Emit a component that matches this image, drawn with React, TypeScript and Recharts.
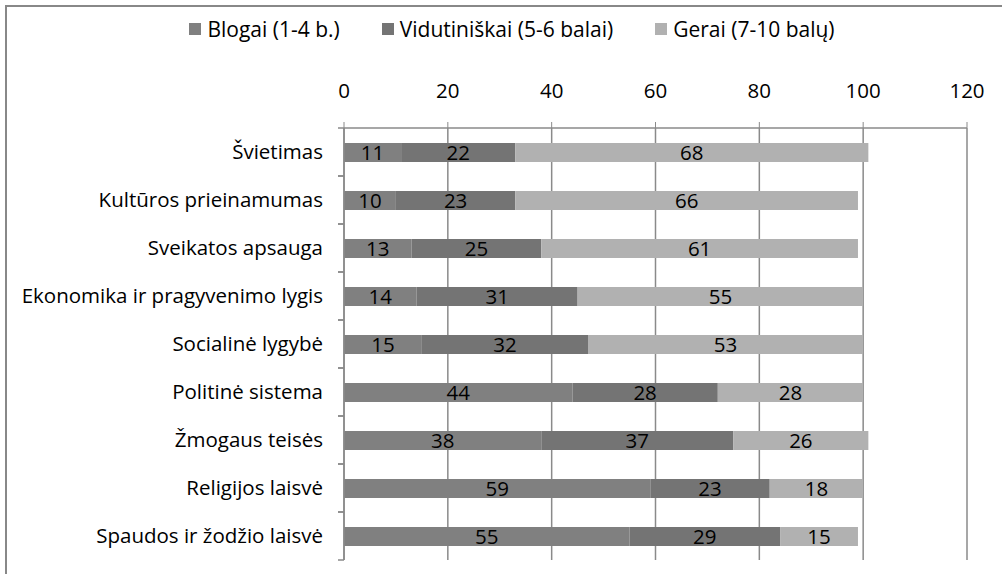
import { BarChart, Bar, XAxis, YAxis, CartesianGrid, Legend, LabelList } from 'recharts';

const categories = [
  'Švietimas',
  'Kultūros prieinamumas',
  'Sveikatos apsauga',
  'Ekonomika ir pragyvenimo lygis',
  'Socialinė lygybė',
  'Politinė sistema',
  'Žmogaus teisės',
  'Religijos laisvė',
  'Spaudos ir žodžio laisvė',
];
const blogai = [11, 10, 13, 14, 15, 44, 38, 59, 55];
const vidutiniskai = [22, 23, 25, 31, 32, 28, 37, 23, 29];
const gerai = [68, 66, 61, 55, 53, 28, 26, 18, 15];
const xTicks = [0, 20, 40, 60, 80, 100, 120];
const seriesNames = ['Blogai (1-4 b.)', 'Vidutiniškai (5-6 balai)', 'Gerai (7-10 balų)'];

const data = categories.map((name, i) => ({
  name,
  blogai: blogai[i],
  vidutiniskai: vidutiniskai[i],
  gerai: gerai[i],
}));

const FONT = '"Open Sans", sans-serif';
const FS = 20.5;
const GRID = '#8a8a8a';
const PLOT_LEFT = 344;
const HALF_BAND = 24;

function CategoryTick(props: any) {
  const { x, y, payload } = props;
  return (
    <g>
      <line x1={PLOT_LEFT - 6} x2={PLOT_LEFT} y1={y - HALF_BAND} y2={y - HALF_BAND} stroke={GRID} strokeWidth={1.5} />
      <line x1={PLOT_LEFT - 6} x2={PLOT_LEFT} y1={y + HALF_BAND} y2={y + HALF_BAND} stroke={GRID} strokeWidth={1.5} />
      <text x={x} y={y} dy={7} textAnchor="end" fill="#000" fontSize={FS} fontFamily={FONT}>
        {payload.value}
      </text>
    </g>
  );
}

function LegendContent(props: any) {
  const items = [...(props.payload || [])].sort(
    (a: any, b: any) => seriesNames.indexOf(a.value) - seriesNames.indexOf(b.value)
  );
  return (
    <div
      style={{
        display: 'flex',
        justifyContent: 'center',
        gap: 42,
        paddingLeft: 57,
        fontFamily: FONT,
        fontSize: 21,
      }}
    >
      {items.map((p: any) => (
        <div key={p.value} style={{ display: 'flex', alignItems: 'center' }}>
          <span style={{ width: 12, height: 12, background: p.color, marginRight: 6, display: 'inline-block' }} />
          <span style={{ color: '#000' }}>{p.value}</span>
        </div>
      ))}
    </div>
  );
}

export default function App() {
  return (
    <div style={{ position: 'absolute', left: 0, top: 0, width: 1002, height: 574, background: '#fff', overflow: 'hidden' }}>
      <div
        style={{
          position: 'absolute',
          left: 5,
          top: 5,
          width: 1100,
          height: 700,
          borderTop: '2px solid #888',
          borderLeft: '2px solid #888',
        }}
      />
      <BarChart
        width={1002}
        height={574}
        data={data}
        layout="vertical"
        margin={{ top: 54, right: 35, bottom: 14, left: 0 }}
        barSize={19}
        style={{ position: 'absolute', left: 0, top: 0 }}
      >
        <CartesianGrid horizontal={false} vertical stroke={GRID} strokeWidth={1.5} />
        <XAxis
          type="number"
          orientation="top"
          domain={[0, 120]}
          ticks={xTicks}
          height={46}
          tickSize={6}
          tickMargin={24}
          stroke={GRID}
          tick={{ fill: '#000', fontSize: FS, fontFamily: FONT }}
          axisLine={{ stroke: GRID, strokeWidth: 1.5 }}
        />
        <YAxis
          type="category"
          dataKey="name"
          width={344}
          tickLine={false}
          tickMargin={15}
          tick={<CategoryTick />}
          axisLine={{ stroke: GRID, strokeWidth: 1.5 }}
        />
        <Legend verticalAlign="top" align="center" content={<LegendContent />} wrapperStyle={{ top: 15 }} />
        <Bar dataKey="blogai" name={seriesNames[0]} stackId="a" fill="#808080" isAnimationActive={false}>
          <LabelList dataKey="blogai" position="center" fill="#000" fontSize={FS} fontFamily={FONT} />
        </Bar>
        <Bar dataKey="vidutiniskai" name={seriesNames[1]} stackId="a" fill="#747474" isAnimationActive={false}>
          <LabelList dataKey="vidutiniskai" position="center" fill="#000" fontSize={FS} fontFamily={FONT} />
        </Bar>
        <Bar dataKey="gerai" name={seriesNames[2]} stackId="a" fill="#b1b1b1" isAnimationActive={false}>
          <LabelList dataKey="gerai" position="center" fill="#000" fontSize={FS} fontFamily={FONT} />
        </Bar>
      </BarChart>
    </div>
  );
}
